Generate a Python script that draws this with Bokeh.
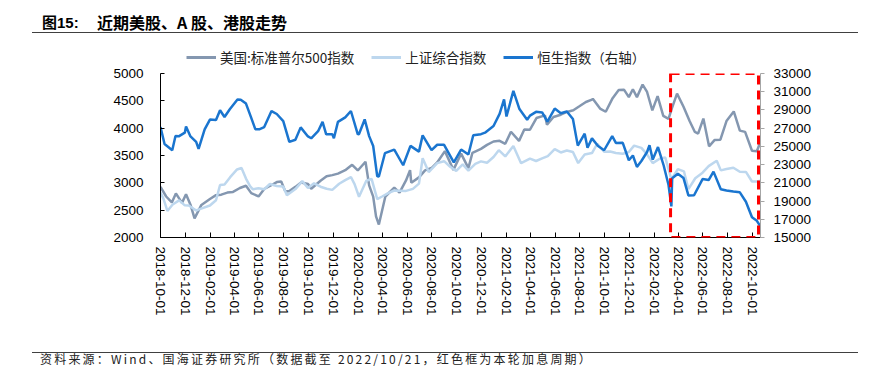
import math
import pandas as pd
from bokeh.plotting import figure
from bokeh.layouts import column
from bokeh.models import (Range1d, LinearAxis, FixedTicker, DatetimeTickFormatter,
                          Legend, LegendItem, BoxAnnotation, Div)
from bokeh.embed import file_html
from bokeh.resources import INLINE

# ---------------- data ----------------
spx_dates = ["2018-10-01", "2018-10-15", "2018-10-29", "2018-11-08", "2018-11-23", "2018-12-03",
             "2018-12-14", "2018-12-24", "2019-01-10", "2019-01-31", "2019-02-15", "2019-02-28",
             "2019-03-15", "2019-03-29", "2019-04-15", "2019-04-30", "2019-05-13", "2019-05-31",
             "2019-06-14", "2019-06-28", "2019-07-15", "2019-07-26", "2019-08-05", "2019-08-15",
             "2019-08-30", "2019-09-13", "2019-09-30", "2019-10-08", "2019-10-31", "2019-11-15",
             "2019-11-29", "2019-12-13", "2019-12-31", "2020-01-17", "2020-01-31", "2020-02-19",
             "2020-02-28", "2020-03-09", "2020-03-16", "2020-03-23", "2020-04-08", "2020-04-30",
             "2020-05-13", "2020-05-29", "2020-06-08", "2020-06-11", "2020-06-30", "2020-07-15",
             "2020-07-31", "2020-08-14", "2020-09-02", "2020-09-23", "2020-10-12", "2020-10-30",
             "2020-11-09", "2020-11-30", "2020-12-15", "2020-12-31", "2021-01-15", "2021-01-29",
             "2021-02-12", "2021-03-04", "2021-03-17", "2021-03-31", "2021-04-16", "2021-05-07",
             "2021-05-12", "2021-05-28", "2021-06-15", "2021-06-30", "2021-07-16", "2021-07-30",
             "2021-08-16", "2021-08-31", "2021-09-02", "2021-09-20", "2021-10-04", "2021-10-21",
             "2021-11-05", "2021-11-18", "2021-11-30", "2021-12-10", "2021-12-20", "2022-01-03",
             "2022-01-14", "2022-01-27", "2022-02-09", "2022-02-23", "2022-03-08", "2022-03-16",
             "2022-03-29", "2022-04-14", "2022-04-29", "2022-05-12", "2022-05-20", "2022-06-02",
             "2022-06-16", "2022-06-30", "2022-07-14", "2022-07-29", "2022-08-16", "2022-08-31",
             "2022-09-13", "2022-09-30", "2022-10-12", "2022-10-21"]
spx_vals = [2924, 2750, 2641, 2806, 2633, 2790,
            2600, 2351, 2596, 2704, 2775, 2784,
            2822, 2834, 2905, 2946, 2812, 2752,
            2887, 2942, 3014, 3026, 2844, 2848,
            2926, 3007, 2977, 2893, 3038, 3120,
            3141, 3169, 3231, 3330, 3226, 3386,
            2954, 2747, 2386, 2237, 2750, 2912,
            2820, 3044, 3232, 3002, 3100, 3227,
            3271, 3373, 3580, 3237, 3534, 3270,
            3550, 3622, 3695, 3756, 3768, 3714,
            3934, 3768, 3974, 3973, 4185, 4233,
            4063, 4204, 4246, 4297, 4327, 4395,
            4479, 4523, 4537, 4358, 4300, 4549,
            4697, 4704, 4567, 4712, 4568, 4797,
            4662, 4326, 4587, 4225, 4170, 4357,
            4632, 4393, 4132, 3930, 3901, 4176,
            3667, 3785, 3790, 4130, 4305, 3955,
            3932, 3586, 3577, 3752]

sse_dates = ["2018-10-01", "2018-10-08", "2018-10-18", "2018-10-31", "2018-11-16", "2018-11-30",
             "2018-12-10", "2018-12-28", "2019-01-04", "2019-01-31", "2019-02-15", "2019-02-25",
             "2019-03-08", "2019-03-22", "2019-04-08", "2019-04-19", "2019-04-30", "2019-05-10",
             "2019-05-17", "2019-05-31", "2019-06-14", "2019-06-28", "2019-07-15", "2019-07-31",
             "2019-08-09", "2019-08-30", "2019-09-16", "2019-09-30", "2019-10-15", "2019-10-31",
             "2019-11-15", "2019-11-29", "2019-12-16", "2019-12-31", "2020-01-14", "2020-01-23",
             "2020-02-03", "2020-02-21", "2020-03-05", "2020-03-19", "2020-03-31", "2020-04-15",
             "2020-04-30", "2020-05-29", "2020-06-15", "2020-06-30", "2020-07-09", "2020-07-24",
             "2020-08-14", "2020-08-31", "2020-09-15", "2020-09-30", "2020-10-16", "2020-10-30",
             "2020-11-16", "2020-11-30", "2020-12-15", "2020-12-31", "2021-01-13", "2021-01-29",
             "2021-02-18", "2021-03-09", "2021-03-31", "2021-04-15", "2021-04-30", "2021-05-14",
             "2021-05-31", "2021-06-15", "2021-06-30", "2021-07-15", "2021-07-28", "2021-08-13",
             "2021-08-31", "2021-09-13", "2021-09-30", "2021-10-15", "2021-10-29", "2021-11-15",
             "2021-11-30", "2021-12-13", "2021-12-31", "2022-01-14", "2022-01-28", "2022-02-15",
             "2022-02-28", "2022-03-15", "2022-03-31", "2022-04-15", "2022-04-26", "2022-05-13",
             "2022-05-31", "2022-06-15", "2022-07-05", "2022-07-15", "2022-07-29", "2022-08-15",
             "2022-08-31", "2022-09-15", "2022-09-30", "2022-10-12", "2022-10-21"]
sse_vals = [2821, 2716, 2486, 2603, 2679, 2588,
            2584, 2494, 2514, 2585, 2682, 2961,
            2969, 3104, 3245, 3271, 3078, 2939,
            2882, 2899, 2882, 2979, 2942, 2932,
            2774, 2886, 3031, 2905, 2991, 2929,
            2891, 2871, 2984, 3050, 3106, 2977,
            2746, 3039, 3071, 2702, 2750, 2812,
            2860, 2852, 2890, 2985, 3450, 3197,
            3360, 3396, 3295, 3218, 3336, 3225,
            3347, 3392, 3367, 3473, 3598, 3483,
            3675, 3360, 3442, 3399, 3447, 3490,
            3615, 3556, 3591, 3565, 3361, 3517,
            3544, 3715, 3568, 3572, 3547, 3533,
            3564, 3681, 3640, 3521, 3361, 3446,
            3462, 3064, 3252, 3211, 2886, 3084,
            3186, 3305, 3404, 3228, 3253, 3277,
            3202, 3199, 3024, 3025, 3038]

hsi_dates = ["2018-10-01", "2018-10-11", "2018-10-30", "2018-11-07", "2018-11-15", "2018-11-30",
             "2018-12-03", "2018-12-14", "2018-12-28", "2019-01-03", "2019-01-18", "2019-01-31",
             "2019-02-15", "2019-02-25", "2019-03-08", "2019-03-21", "2019-04-09", "2019-04-17",
             "2019-04-30", "2019-05-13", "2019-05-23", "2019-06-03", "2019-06-14", "2019-07-02",
             "2019-07-15", "2019-07-31", "2019-08-15", "2019-08-30", "2019-09-12", "2019-09-30",
             "2019-10-08", "2019-10-25", "2019-11-05", "2019-11-14", "2019-11-29", "2019-12-03",
             "2019-12-13", "2019-12-31", "2020-01-14", "2020-01-31", "2020-02-03", "2020-02-17",
             "2020-02-28", "2020-03-09", "2020-03-19", "2020-03-23", "2020-04-07", "2020-04-30",
             "2020-05-22", "2020-06-09", "2020-06-30", "2020-07-09", "2020-07-31", "2020-08-14",
             "2020-08-31", "2020-09-24", "2020-10-12", "2020-10-30", "2020-11-11", "2020-11-30",
             "2020-12-10", "2020-12-31", "2021-01-15", "2021-01-26", "2021-02-01", "2021-02-18",
             "2021-03-05", "2021-03-24", "2021-03-31", "2021-04-15", "2021-04-30", "2021-05-13",
             "2021-05-31", "2021-06-15", "2021-06-30", "2021-07-15", "2021-07-27", "2021-08-13",
             "2021-08-20", "2021-08-31", "2021-09-15", "2021-09-30", "2021-10-20", "2021-10-29",
             "2021-11-15", "2021-11-30", "2021-12-10", "2021-12-20", "2021-12-31", "2022-01-14",
             "2022-01-20", "2022-01-28", "2022-02-10", "2022-02-24", "2022-03-08", "2022-03-15",
             "2022-03-17", "2022-03-31", "2022-04-14", "2022-04-26", "2022-05-10", "2022-05-31",
             "2022-06-15", "2022-06-27", "2022-07-15", "2022-07-29", "2022-08-15", "2022-08-31",
             "2022-09-15", "2022-09-30", "2022-10-12", "2022-10-21"]
hsi_vals = [27127, 25266, 24586, 26147, 26104, 26506,
            27182, 26095, 25504, 24737, 26867, 27942,
            27901, 28959, 28228, 29071, 30157, 30130,
            29699, 28122, 26889, 26893, 27118, 28875,
            28555, 27778, 25495, 25725, 27087, 26092,
            25893, 26667, 27688, 26323, 26346, 25889,
            27687, 28189, 28885, 26312, 26356, 27959,
            26129, 25040, 21709, 21696, 24253, 24643,
            22930, 25057, 24427, 26210, 24595, 25183,
            25177, 23235, 24650, 24107, 26227, 26341,
            26506, 27231, 28573, 30159, 28284, 31085,
            29098, 27918, 28378, 28793, 28725, 27719,
            29152, 28639, 28828, 27996, 25086, 26391,
            24850, 25879, 25033, 24576, 26136, 25377,
            25391, 23475, 23996, 22745, 23398, 24383,
            25122, 23550, 24924, 22902, 20766, 18415,
            21501, 21997, 21519, 19617, 19634, 21415,
            21308, 22230, 20297, 20157, 20041, 19954,
            18930, 17223, 16832, 16211]

x_tick_labels = ["2018-10-01", "2018-12-01", "2019-02-01", "2019-04-01", "2019-06-01",
                 "2019-08-01", "2019-10-01", "2019-12-01", "2020-02-01", "2020-04-01",
                 "2020-06-01", "2020-08-01", "2020-10-01", "2020-12-01", "2021-02-01",
                 "2021-04-01", "2021-06-01", "2021-08-01", "2021-10-01", "2021-12-01",
                 "2022-02-01", "2022-04-01", "2022-06-01", "2022-08-01", "2022-10-01"]
left_ticks = [2000, 2500, 3000, 3500, 4000, 4500, 5000]
right_ticks = [15000, 17000, 19000, 21000, 23000, 25000, 27000, 29000, 31000, 33000]

x_start = "2018-10-01"
x_end = "2022-10-21"
hike_start = "2022-03-13"
hike_end = "2022-10-16"

series_names = ["美国:标准普尔500指数", "上证综合指数", "恒生指数（右轴）"]
series_colors = ["#8497B0", "#BDD7EE", "#1A75CF"]
title_num = "图15:"
title_text = "近期美股、A 股、港股走势"
source_text = "资料来源：Wind、国海证券研究所（数据截至 2022/10/21，红色框为本轮加息周期）"


def ms(d):
    return pd.Timestamp(d).value / 1e6


def dts(lst):
    return [pd.Timestamp(d) for d in lst]


LAT = "Liberation Sans"
CJK = "Noto Sans CJK SC"
LW = 2.5
BL, BR = 160, 115   # left / right borders shared by the stacked figures

# ---------------- header (title + rule) ----------------
header = Div(width=875, height=34, margin=0, text=(
    '<div style="position:relative;width:875px;height:34px;overflow:hidden;color:#000;">'
    f'<span style="position:absolute;left:42px;top:15px;font-family:\'{LAT}\',\'{CJK}\';'
    f'font-size:15px;line-height:15px;font-weight:bold;white-space:nowrap;">{title_num}</span>'
    f'<span style="position:absolute;left:97px;top:14px;font-family:\'{CJK}\';'
    f'font-size:16px;line-height:16px;font-weight:bold;white-space:nowrap;">{title_text}</span>'
    '<div style="position:absolute;left:32px;top:32px;width:826px;height:1px;background:#404040;"></div>'
    '</div>'))

# ---------------- legend strip ----------------
lg = figure(width=875, height=33, x_range=Range1d(0, 1), y_range=Range1d(0, 1),
            output_backend="svg", toolbar_location=None, margin=0,
            x_axis_location=None, y_axis_location=None,
            min_border_left=BL, min_border_right=BR, min_border_top=0, min_border_bottom=0)
lg.grid.visible = False
lg.outline_line_color = None
lg.background_fill_color = "white"
lg.border_fill_color = "white"
# placeholder renderers (outside the visible range) that only carry the legend styles
dummies = [lg.line(x=[-5, -4], y=[-5, -5], line_color=c, line_width=3) for c in series_colors]
legend = Legend(items=[LegendItem(label=n, renderers=[r]) for n, r in zip(series_names, dummies)],
                orientation="horizontal", location=(26, 0), padding=0, margin=0,
                spacing=17, label_standoff=4, glyph_width=30, glyph_height=14,
                label_height=14, label_text_font=CJK, label_text_font_size="13.5px",
                label_text_color="#222222", border_line_color=None, background_fill_alpha=0)
lg.add_layout(legend)

# ---------------- main figure ----------------
p = figure(width=875, height=283, x_axis_type="datetime",
           x_range=Range1d(ms(x_start), ms(x_end)), y_range=Range1d(2000, 5000),
           output_backend="svg", toolbar_location=None, margin=0,
           min_border_left=BL, min_border_right=BR, min_border_top=6, min_border_bottom=113)
p.extra_y_ranges = {"hsi": Range1d(15000, 33000)}
p.grid.visible = False
p.outline_line_color = None
p.background_fill_color = "white"
p.border_fill_color = "white"

# x axis
xa = p.xaxis[0]
xa.ticker = FixedTicker(ticks=[ms(d) for d in x_tick_labels])
fmt = "%Y-%m-%d"
xa.formatter = DatetimeTickFormatter(microseconds=fmt, milliseconds=fmt, seconds=fmt, minsec=fmt,
                                     minutes=fmt, hourmin=fmt, hours=fmt, days=fmt, months=fmt,
                                     years=fmt)
xa.major_label_orientation = -math.pi / 2
xa.major_label_text_font = LAT
xa.major_label_text_font_size = "13.5px"
xa.major_label_text_color = "black"
xa.major_label_standoff = 9
xa.axis_line_color = "black"
xa.major_tick_line_color = "black"
xa.major_tick_in = 5
xa.major_tick_out = 0
xa.minor_tick_line_color = None

# left axis
ya = p.yaxis[0]
ya.ticker = FixedTicker(ticks=left_ticks)
ya.major_label_text_font = LAT
ya.major_label_text_font_size = "13.5px"
ya.major_label_text_color = "black"
ya.major_label_standoff = 17
ya.axis_line_color = "black"
ya.major_tick_line_color = "black"
ya.major_tick_in = 4
ya.major_tick_out = 0
ya.minor_tick_line_color = None

# right axis
ra = LinearAxis(y_range_name="hsi", ticker=FixedTicker(ticks=right_ticks))
ra.major_label_text_font = LAT
ra.major_label_text_font_size = "13.5px"
ra.major_label_text_color = "black"
ra.major_label_standoff = 9
ra.axis_line_color = "#A6A6A6"
ra.major_tick_line_color = "#A6A6A6"
ra.major_tick_in = 0
ra.major_tick_out = 4
ra.minor_tick_line_color = None
p.add_layout(ra, "right")

# lines
p.line(dts(spx_dates), spx_vals, line_color=series_colors[0], line_width=LW)
p.line(dts(sse_dates), sse_vals, line_color=series_colors[1], line_width=LW)
p.line(dts(hsi_dates), hsi_vals, line_color=series_colors[2], line_width=LW, y_range_name="hsi")

# hike period box
box = BoxAnnotation(left=ms(hike_start), right=ms(hike_end), bottom=2000, top=5000,
                    fill_alpha=0, line_color="#FF0000", line_alpha=1, line_width=3,
                    line_dash="9 6")
p.add_layout(box)

# ---------------- footer (rule + source) ----------------
footer = Div(width=875, height=18, margin=0, text=(
    '<div style="position:relative;width:875px;height:18px;overflow:hidden;color:#222;">'
    '<div style="position:absolute;left:32px;top:2px;width:826px;height:1px;background:#404040;"></div>'
    f'<span style="position:absolute;left:40px;top:3px;font-family:\'{CJK}\';font-size:12px;'
    f'line-height:12px;letter-spacing:2.2px;white-space:nowrap;">{source_text}</span>'
    '</div>'))

layout = column(header, lg, p, footer, spacing=0, margin=0)

open("out.html", "w").write(file_html(layout, INLINE))
